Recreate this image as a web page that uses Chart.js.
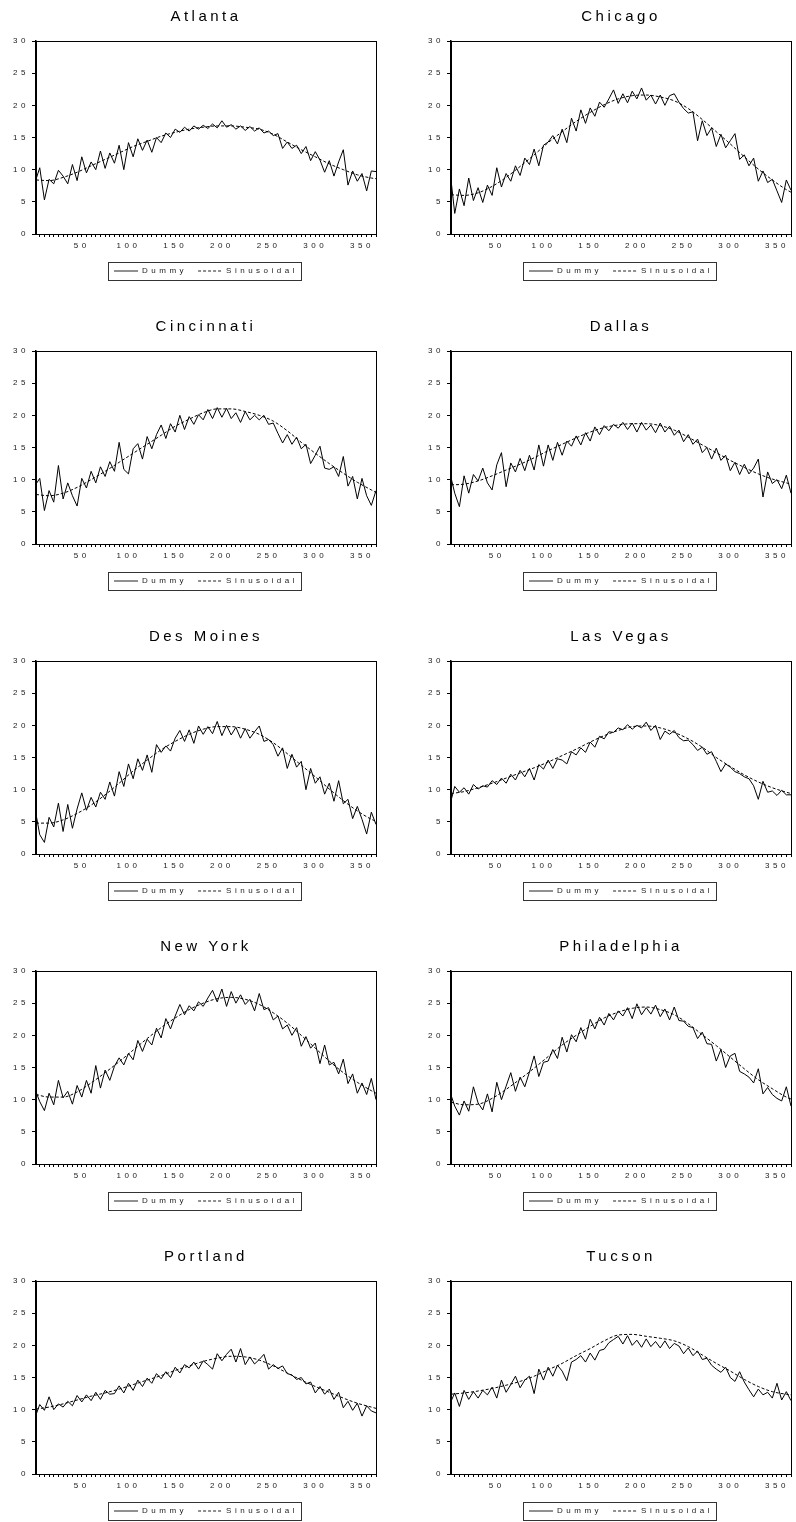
<!DOCTYPE html>
<html>
<head>
<meta charset="utf-8">
<script src="https://cdn.jsdelivr.net/npm/chart.js@4.4.1/dist/chart.umd.min.js"></script>
<style>
  html, body { margin: 0; padding: 0; background: #fff; overflow: hidden; }
  #grid { position: relative; width: 796px; height: 1522px; overflow: hidden; }
  .panel { position: absolute; width: 415px; height: 310px; }
</style>
</head>
<body>
<div id="grid"></div>
<script>
const DAYS = [
  1, 5, 10, 15, 20, 25, 30, 35, 40, 45,
  50, 55, 60, 65, 70, 75, 80, 85, 90, 95,
  100, 105, 110, 115, 120, 125, 130, 135, 140, 145,
  150, 155, 160, 165, 170, 175, 180, 185, 190, 195,
  200, 205, 210, 215, 220, 225, 230, 235, 240, 245,
  250, 255, 260, 265, 270, 275, 280, 285, 290, 295,
  300, 305, 310, 315, 320, 325, 330, 335, 340, 345,
  350, 355, 360, 365
];
const SIN_DAYS = [1, 15, 30, 45, 60, 75, 90, 105, 120, 135, 150, 165, 180, 195, 210, 225, 240, 255, 270, 285, 300, 315, 330, 345, 360, 365];

const X_MINOR = [5, 10, 15, 20, 25, 30, 35, 40, 45, 50, 55, 60, 65, 70, 75, 80, 85, 90, 95, 100,
  105, 110, 115, 120, 125, 130, 135, 140, 145, 150, 155, 160, 165, 170, 175, 180, 185, 190, 195, 200,
  205, 210, 215, 220, 225, 230, 235, 240, 245, 250, 255, 260, 265, 270, 275, 280, 285, 290, 295, 300,
  305, 310, 315, 320, 325, 330, 335, 340, 345, 350, 355, 360, 365];
const X_LABELS = [50, 100, 150, 200, 250, 300, 350];
const Y_TICKS = [0, 5, 10, 15, 20, 25, 30];

const CITIES = ['Atlanta', 'Chicago', 'Cincinnati', 'Dallas', 'Des Moines', 'Las Vegas', 'New York', 'Philadelphia', 'Portland', 'Tucson'];
const SERIES_NAMES = ['Dummy', 'Sinusoidal'];

// Dummy (solid) series
const ATLANTA_DUMMY = [
  8.5, 10.3, 5.3, 8.5, 7.8, 9.9, 9.0, 7.8, 10.8, 8.3,
  12.0, 9.5, 11.2, 10.0, 12.9, 10.2, 12.6, 11.0, 13.8, 10.0,
  14.2, 12.0, 14.8, 13.0, 14.6, 12.7, 15.0, 14.2, 15.7, 15.0,
  16.3, 15.8, 16.6, 16.0, 16.8, 16.3, 16.9, 16.4, 17.1, 16.5,
  17.6, 16.6, 17.0, 16.3, 16.8, 16.1, 16.7, 16.0, 16.5, 15.7,
  16.0, 15.3, 15.6, 13.3, 14.3, 13.3, 13.8, 12.5, 13.6, 11.4,
  12.8, 11.5, 9.6, 11.4, 9.0, 11.2, 13.1, 7.6, 9.8, 8.2,
  9.4, 6.7, 9.8, 9.7
];
const CHICAGO_DUMMY = [
  8.4, 3.2, 7.0, 4.4, 8.7, 5.2, 7.2, 4.9, 7.6, 6.0,
  10.3, 7.3, 9.4, 8.2, 10.6, 9.1, 11.8, 10.8, 13.2, 10.6,
  13.8, 14.3, 15.3, 14.0, 16.3, 14.2, 18.0, 16.0, 19.3, 17.2,
  19.6, 18.3, 20.5, 19.7, 21.0, 22.4, 20.3, 21.8, 20.4, 22.2,
  21.0, 22.7, 20.8, 21.6, 20.2, 21.6, 20.0, 21.5, 21.8, 20.5,
  19.5, 18.8, 19.0, 14.5, 17.6, 15.3, 16.5, 13.6, 15.5, 13.4,
  14.5, 15.6, 11.6, 12.3, 10.6, 11.8, 8.2, 9.8, 8.0, 8.5,
  6.7, 4.9, 8.4, 6.8
];
const CINCINNATI_DUMMY = [
  9.3, 10.2, 5.2, 8.3, 6.5, 12.2, 7.0, 9.5, 7.5, 5.9,
  10.2, 8.7, 11.3, 9.5, 12.0, 10.5, 12.8, 11.3, 15.8, 11.6,
  10.9, 14.8, 15.6, 13.2, 16.7, 14.8, 17.0, 18.5, 16.4, 18.7,
  17.4, 20.0, 17.8, 19.8, 18.6, 20.1, 19.3, 20.9, 19.5, 21.2,
  19.7, 21.1, 19.5, 20.4, 18.9, 20.6, 19.3, 20.0, 19.3, 20.0,
  18.6, 18.8, 17.2, 15.7, 17.0, 15.5, 16.6, 14.8, 15.5, 12.5,
  13.8, 15.2, 11.8, 11.6, 12.0, 10.5, 13.6, 9.0, 10.5, 7.0,
  10.2, 7.5, 6.0, 8.3
];
const DALLAS_DUMMY = [
  10.3, 7.9, 5.8, 10.6, 7.9, 10.8, 9.8, 11.8, 9.5, 8.4,
  12.3, 14.2, 8.9, 12.6, 11.2, 13.3, 11.4, 13.8, 11.5, 15.4,
  12.1, 15.4, 13.0, 15.8, 13.8, 16.0, 15.2, 16.8, 15.4, 17.3,
  16.0, 18.2, 17.0, 18.4, 17.6, 18.6, 18.0, 18.9, 17.8, 18.8,
  17.4, 18.9, 17.7, 18.5, 17.3, 18.8, 17.4, 18.3, 16.9, 17.7,
  15.9, 17.0, 15.5, 16.3, 14.2, 15.0, 13.2, 14.9, 13.0, 13.8,
  11.4, 12.7, 10.8, 12.4, 10.9, 11.8, 13.2, 7.3, 11.2, 9.4,
  10.0, 8.6, 10.7, 7.9
];
const DES_MOINES_DUMMY = [
  6.2, 3.0, 1.8, 5.7, 4.2, 7.9, 3.5, 7.7, 4.0, 7.0,
  9.5, 6.8, 8.8, 7.3, 9.6, 8.5, 11.2, 9.0, 12.8, 10.5,
  14.0, 11.7, 14.8, 13.0, 15.4, 12.7, 17.0, 15.8, 16.8, 16.0,
  18.0, 19.2, 17.5, 19.3, 17.2, 19.9, 18.6, 19.8, 18.7, 20.6,
  18.4, 20.0, 18.5, 19.7, 18.0, 19.5, 18.0, 19.0, 19.9, 17.5,
  17.8, 17.0, 15.2, 16.5, 13.3, 15.5, 13.5, 14.4, 10.0, 13.3,
  11.0, 12.0, 9.3, 11.0, 8.2, 11.4, 7.8, 8.5, 5.5, 7.4,
  5.4, 3.1, 6.5, 4.6
];
const LAS_VEGAS_DUMMY = [
  8.3, 10.5, 9.6, 10.3, 9.3, 10.8, 10.1, 10.6, 10.4, 11.4,
  10.8, 11.8, 11.0, 12.4, 11.5, 13.0, 12.0, 13.3, 11.5, 13.9,
  13.2, 14.6, 13.3, 14.8, 14.6, 14.0, 15.9, 15.4, 16.5, 15.8,
  17.4, 16.6, 18.3, 17.9, 19.0, 18.9, 19.6, 19.3, 20.1, 19.4,
  20.0, 19.6, 20.5, 19.2, 20.0, 17.8, 19.1, 18.6, 19.2, 18.1,
  17.6, 17.7, 17.0, 16.1, 16.6, 15.5, 15.9, 14.4, 12.8, 14.0,
  13.5, 12.8, 12.5, 12.0, 11.7, 10.6, 8.5, 11.3, 9.6, 9.8,
  9.1, 9.9, 9.2, 9.2
];
const NEW_YORK_DUMMY = [
  11.2, 9.7, 8.3, 11.0, 9.2, 13.0, 10.3, 11.3, 9.3, 12.2,
  10.4, 13.0, 11.0, 15.3, 11.8, 14.6, 13.0, 15.2, 16.5, 15.4,
  17.2, 16.2, 19.2, 17.5, 19.4, 18.5, 21.1, 19.6, 22.6, 21.0,
  23.0, 24.8, 23.2, 24.6, 23.8, 25.2, 24.5, 25.8, 27.0, 25.2,
  27.2, 24.5, 26.8, 25.0, 26.3, 24.8, 25.6, 23.8, 26.5, 24.0,
  24.3, 22.4, 23.0, 21.0, 21.6, 20.0, 21.2, 18.3, 19.8, 18.0,
  18.8, 15.6, 18.5, 15.4, 15.8, 14.0, 16.3, 12.5, 14.0, 11.0,
  12.6, 10.8, 13.3, 10.0
];
const PHILADELPHIA_DUMMY = [
  10.7, 9.0, 7.6, 9.8, 8.2, 12.0, 9.5, 8.4, 10.9, 8.1,
  12.7, 10.0, 12.1, 14.2, 11.3, 13.5, 12.0, 14.3, 16.8, 13.6,
  15.8, 16.0, 17.8, 16.4, 19.7, 17.4, 20.1, 19.0, 21.2, 19.4,
  22.5, 21.0, 22.8, 21.6, 23.4, 22.4, 23.8, 23.0, 24.3, 22.6,
  24.9, 23.2, 24.3, 23.3, 24.7, 22.9, 24.1, 22.4, 24.4, 22.3,
  22.2, 21.4, 21.2, 19.5, 20.5, 18.7, 18.6, 16.0, 17.8, 15.0,
  16.8, 17.2, 14.4, 14.0, 13.5, 12.6, 14.8, 10.9, 11.9, 10.8,
  10.2, 9.8, 12.0, 9.0
];
const PORTLAND_DUMMY = [
  9.2, 10.8, 9.9, 12.0, 10.0, 10.9, 10.4, 11.3, 10.6, 12.2,
  11.2, 12.3, 11.4, 12.7, 11.6, 13.0, 12.4, 12.5, 13.7, 12.6,
  14.1, 13.0, 14.6, 13.6, 14.9, 14.1, 15.6, 14.8, 15.9, 15.0,
  16.6, 15.7, 17.0, 16.5, 17.4, 16.3, 17.6, 17.0, 16.3, 18.7,
  17.6, 18.6, 19.4, 17.4, 19.5, 17.0, 18.2, 17.1, 17.8, 18.6,
  16.3, 17.0, 16.4, 16.8, 15.6, 15.4, 14.7, 15.0, 14.0, 14.3,
  12.6, 13.6, 12.4, 13.2, 11.6, 12.7, 10.3, 11.3, 9.9, 11.0,
  9.0, 10.6, 9.8, 9.5
];
const TUCSON_DUMMY = [
  11.3, 12.6, 10.5, 13.0, 11.6, 12.8, 11.8, 13.0, 12.3, 13.5,
  11.8, 14.6, 12.7, 13.9, 15.2, 13.4, 14.6, 15.2, 12.5, 16.3,
  14.6, 16.6, 15.2, 16.9, 16.0, 14.5, 17.4, 17.8, 18.4, 17.4,
  18.8, 17.7, 19.2, 19.4, 20.4, 20.9, 21.4, 20.2, 21.5, 20.0,
  20.8, 19.7, 21.0, 19.8, 20.6, 19.6, 20.7, 19.5, 20.3, 19.9,
  18.7, 19.6, 18.4, 19.1, 17.8, 18.0, 16.9, 16.3, 15.8, 16.6,
  15.0, 14.4, 15.9, 14.3, 13.1, 12.0, 13.2, 12.3, 12.7, 11.8,
  14.1, 11.5, 12.8, 11.4
];

// Sinusoidal (dashed) series
const ATLANTA_SIN = [8.4, 8.3, 8.8, 9.6, 10.6, 11.6, 12.6, 13.6, 14.4, 15.2, 15.8, 16.3, 16.6, 16.8, 16.8, 16.6, 16.3, 15.5, 14.3, 13.1, 12.0, 10.9, 10.0, 9.2, 8.7, 8.6];
const CHICAGO_SIN = [6.1, 6.0, 6.4, 7.4, 8.8, 10.5, 12.3, 14.2, 15.9, 17.5, 18.9, 20.1, 21.0, 21.5, 21.6, 21.3, 20.7, 19.5, 17.8, 15.9, 14.0, 12.0, 10.1, 8.4, 6.9, 6.5];
const CINCINNATI_SIN = [7.7, 7.5, 7.9, 8.8, 10.0, 11.3, 12.7, 14.1, 15.5, 16.9, 18.3, 19.4, 20.4, 21.0, 21.0, 20.6, 20.0, 19.1, 17.6, 15.8, 14.1, 12.5, 11.0, 9.6, 8.4, 8.0];
const DALLAS_SIN = [9.2, 9.3, 9.8, 10.6, 11.5, 12.4, 13.4, 14.5, 15.5, 16.5, 17.4, 18.1, 18.5, 18.7, 18.7, 18.4, 17.7, 16.6, 15.4, 14.2, 13.0, 11.9, 10.9, 10.1, 9.5, 9.3];
const DES_MOINES_SIN = [4.8, 4.8, 5.3, 6.3, 7.6, 9.2, 11.0, 12.9, 14.6, 16.2, 17.5, 18.6, 19.4, 19.8, 19.8, 19.4, 18.6, 17.3, 15.6, 13.8, 12.0, 10.1, 8.3, 6.7, 5.4, 5.1];
const LAS_VEGAS_SIN = [9.4, 9.7, 10.3, 11.0, 11.8, 12.6, 13.4, 14.3, 15.3, 16.3, 17.4, 18.4, 19.2, 19.8, 19.9, 19.6, 18.9, 17.9, 16.6, 15.0, 13.6, 12.3, 11.2, 10.3, 9.6, 9.4];
const NEW_YORK_SIN = [10.8, 10.4, 10.4, 11.2, 12.6, 14.2, 15.9, 17.7, 19.5, 21.2, 22.7, 24.0, 25.0, 25.7, 25.9, 25.6, 24.8, 23.5, 21.9, 20.0, 18.0, 16.0, 14.2, 12.7, 11.4, 11.0];
const PHILADELPHIA_SIN = [9.6, 9.2, 9.3, 10.2, 11.6, 13.2, 14.9, 16.7, 18.5, 20.0, 21.4, 22.7, 23.6, 24.2, 24.4, 24.0, 23.2, 21.8, 20.1, 18.4, 16.6, 14.8, 13.1, 11.7, 10.4, 10.1];
const PORTLAND_SIN = [10.1, 10.4, 10.9, 11.5, 12.1, 12.6, 13.2, 13.9, 14.6, 15.3, 16.1, 16.8, 17.5, 18.0, 18.3, 18.2, 17.7, 16.8, 15.7, 14.6, 13.6, 12.7, 11.8, 11.0, 10.4, 10.2];
const TUCSON_SIN = [12.4, 12.6, 12.9, 13.3, 13.8, 14.4, 15.2, 16.2, 17.2, 18.4, 19.5, 20.7, 21.6, 21.7, 21.4, 21.1, 20.7, 19.8, 18.5, 17.2, 16.0, 14.7, 13.6, 12.8, 12.4, 12.3];

const DUMMY = [ATLANTA_DUMMY, CHICAGO_DUMMY, CINCINNATI_DUMMY, DALLAS_DUMMY, DES_MOINES_DUMMY,
  LAS_VEGAS_DUMMY, NEW_YORK_DUMMY, PHILADELPHIA_DUMMY, PORTLAND_DUMMY, TUCSON_DUMMY];
const SINUS = [ATLANTA_SIN, CHICAGO_SIN, CINCINNATI_SIN, DALLAS_SIN, DES_MOINES_SIN,
  LAS_VEGAS_SIN, NEW_YORK_SIN, PHILADELPHIA_SIN, PORTLAND_SIN, TUCSON_SIN];

const FONT = '"Liberation Sans", Arial, sans-serif';
const SPACING = '3.5px';

// Espaciado entre letras, como en el original
const letterSpacing = {
  id: 'letterSpacing',
  beforeUpdate(chart) { chart.ctx.letterSpacing = SPACING; },
  beforeDraw(chart) { chart.ctx.letterSpacing = SPACING; }
};

// Marco completo alrededor del area del grafico
const frame = {
  id: 'frame',
  afterDatasetsDraw(chart) {
    const { ctx, chartArea: a } = chart;
    ctx.save();
    ctx.strokeStyle = '#000';
    ctx.lineWidth = 1;
    ctx.strokeRect(Math.round(a.left) + 0.5, Math.round(a.top) + 0.5, Math.round(a.right - a.left), Math.round(a.bottom - a.top));
    ctx.restore();
  }
};

// Recuadro de la leyenda
const legendBox = {
  id: 'legendBox',
  afterDraw(chart) {
    const boxes = chart.legend.legendHitBoxes;
    if (!boxes || !boxes.length) return;
    const first = boxes[0];
    const last = boxes[boxes.length - 1];
    const x0 = Math.round(first.left - 6) + 0.5;
    const x1 = Math.round(last.left + last.width + 3) + 0.5;
    const y0 = Math.round(first.top - 5) + 0.5;
    const y1 = Math.round(first.top + first.height + 5) + 0.5;
    const ctx = chart.ctx;
    ctx.save();
    ctx.strokeStyle = '#333';
    ctx.lineWidth = 1;
    ctx.strokeRect(x0, y0, x1 - x0, y1 - y0);
    ctx.restore();
  }
};

// Leyenda con la linea punteada del modelo sinusoidal
function legendLabels(chart) {
  const items = Chart.defaults.plugins.legend.labels.generateLabels(chart);
  items.forEach(item => {
    const ds = chart.data.datasets[item.datasetIndex];
    item.lineDash = ds.borderDash || [];
    item.lineWidth = 1;
    item.strokeStyle = '#222';
  });
  return items;
}

const grid = document.getElementById('grid');

CITIES.forEach((city, i) => {
  const wrap = document.createElement('div');
  wrap.className = 'panel';
  wrap.style.left = (i % 2) * 415 + 'px';
  wrap.style.top = Math.floor(i / 2) * 310 + 'px';
  const canvas = document.createElement('canvas');
  canvas.width = 415;
  canvas.height = 310;
  wrap.appendChild(canvas);
  grid.appendChild(wrap);

  new Chart(canvas, {
    type: 'line',
    data: {
      datasets: [
        {
          label: SERIES_NAMES[0],
          data: DAYS.map((d, k) => ({ x: d, y: DUMMY[i][k] })),
          borderColor: '#000',
          borderWidth: 1,
          pointRadius: 0,
          tension: 0
        },
        {
          label: SERIES_NAMES[1],
          data: SIN_DAYS.map((d, k) => ({ x: d, y: SINUS[i][k] })),
          borderColor: '#000',
          borderWidth: 1,
          borderDash: [3, 2],
          pointRadius: 0,
          cubicInterpolationMode: 'monotone'
        }
      ]
    },
    options: {
      responsive: false,
      animation: false,
      events: [],
      layout: { padding: { left: 0, right: 39, top: 0, bottom: 25 } },
      plugins: {
        title: {
          display: true,
          text: city,
          fullSize: false,
          color: '#000',
          font: { family: FONT, size: 15, weight: 'normal' },
          padding: { top: 8, bottom: 15 }
        },
        legend: {
          position: 'bottom',
          fullSize: false,
          labels: {
            usePointStyle: true,
            pointStyle: 'line',
            pointStyleWidth: 24,
            color: '#222',
            font: { family: FONT, size: 8 },
            padding: 11,
            generateLabels: legendLabels
          }
        },
        tooltip: { enabled: false }
      },
      scales: {
        x: {
          type: 'linear',
          min: 1,
          max: 365,
          afterBuildTicks: s => { s.ticks = X_MINOR.map(v => ({ value: v })); },
          afterFit: s => { s.height = 22; },
          ticks: {
            autoSkip: false,
            maxRotation: 0,
            padding: 4,
            color: '#222',
            font: { family: FONT, size: 8 },
            callback: v => X_LABELS.includes(v) ? String(v) : ''
          },
          grid: { drawOnChartArea: false, tickLength: 3, color: '#000' },
          border: { color: '#000' }
        },
        y: {
          min: 0,
          max: 30,
          afterBuildTicks: s => { s.ticks = Y_TICKS.map(v => ({ value: v })); },
          afterFit: s => { s.width = 36; },
          ticks: {
            padding: 3,
            color: '#222',
            font: { family: FONT, size: 8 }
          },
          grid: { drawOnChartArea: false, tickLength: 4, color: '#000' },
          border: { color: '#000', width: 1.5 }
        }
      }
    },
    plugins: [letterSpacing, frame, legendBox]
  });
});
</script>
</body>
</html>
